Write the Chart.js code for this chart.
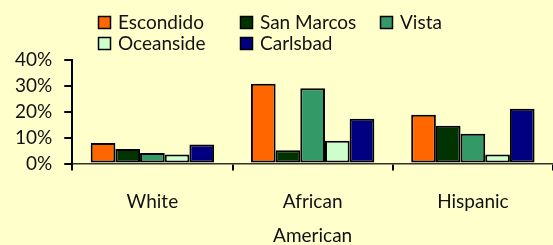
<!DOCTYPE html>
<html>
<head>
<meta charset="utf-8">
<script src="https://cdn.jsdelivr.net/npm/chart.js@4"></script>
<style>
  html, body { margin: 0; padding: 0; background: #FFFFCC; }
  #wrap { width: 553px; height: 245px; position: relative; }
</style>
</head>
<body>
<div id="wrap"><canvas id="chart" width="553" height="245"></canvas></div>
<script>
const categories = [['White'], ['African', 'American'], ['Hispanic']];
const cities = ['Escondido', 'San Marcos', 'Vista', 'Oceanside', 'Carlsbad'];
const cityColors = ['#FF6600', '#003300', '#339966', '#CCFFCC', '#000080'];

const escondido = [7.9, 30.8, 18.8];
const sanMarcos = [5.6, 5.1, 14.6];
const vista     = [4.1, 29.1, 11.5];
const oceanside = [3.5, 8.8, 3.5];
const carlsbad  = [7.3, 17.3, 21.2];

const yTicks = [0, 10, 20, 30, 40];

const series = [escondido, sanMarcos, vista, oceanside, carlsbad];
const FONT = 'Lato';

// legend laid out in columns like the original
const gridLegend = {
  id: 'gridLegend',
  afterDraw(chart) {
    const ctx = chart.ctx;
    const colX = [98, 240, 380];
    const rowY = [16, 37];
    ctx.save();
    ctx.font = '19px ' + FONT;
    ctx.textBaseline = 'middle';
    chart.data.datasets.forEach((ds, i) => {
      const x = colX[i % 3], y = rowY[Math.floor(i / 3)];
      ctx.fillStyle = ds.backgroundColor;
      ctx.fillRect(x, y, 13, 13);
      ctx.strokeStyle = '#000';
      ctx.lineWidth = 1.5;
      ctx.strokeRect(x + 0.5, y + 0.5, 12, 12);
      ctx.fillStyle = '#111';
      ctx.fillText(ds.label, x + 20, y + 7);
    });
    ctx.restore();
  }
};

new Chart(document.getElementById('chart').getContext('2d'), {
  type: 'bar',
  data: {
    labels: categories,
    datasets: cities.map((c, i) => ({
      label: c,
      data: series[i],
      backgroundColor: cityColors[i],
      borderColor: '#000',
      borderWidth: 2,
      borderSkipped: false,
      categoryPercentage: 0.77,
      barPercentage: 1.0
    }))
  },
  options: {
    responsive: false,
    animation: false,
    layout: { padding: { top: 60, right: -4, left: 3, bottom: -22 } },
    plugins: { legend: { display: false }, tooltip: { enabled: false } },
    scales: {
      x: {
        grid: { drawOnChartArea: false, drawTicks: true, tickLength: 7, color: '#000', lineWidth: 2 },
        border: { color: '#333', width: 1.5 },
        ticks: { color: '#111', padding: 15, font: { size: 19, family: FONT, lineHeight: 1.75 } }
      },
      y: {
        min: 0, max: 40,
        afterBuildTicks: s => { s.ticks = yTicks.map(v => ({ value: v })); },
        grid: { drawOnChartArea: false, drawTicks: true, tickLength: 8, color: '#000', lineWidth: 2 },
        border: { color: '#000', width: 2 },
        ticks: { color: '#111', padding: 12, font: { size: 19, family: FONT }, callback: v => v + '%' }
      }
    }
  },
  plugins: [gridLegend]
});
</script>
</body>
</html>
